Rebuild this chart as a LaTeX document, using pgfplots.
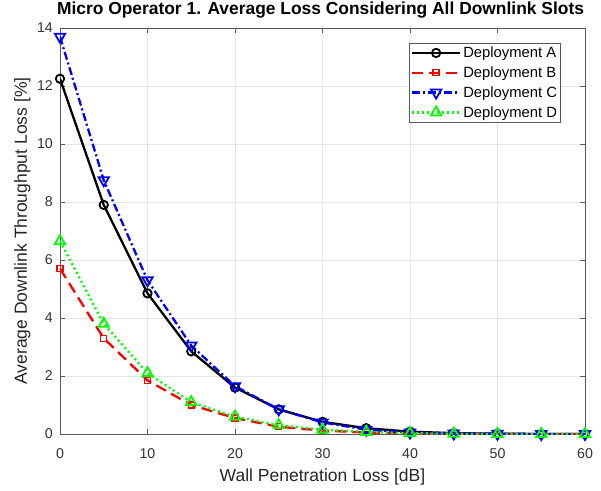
\documentclass[border=0pt]{standalone}
\usepackage{pgfplots}
\pgfplotsset{compat=1.18}
\usepackage{fontspec}
\setmainfont{Liberation Sans}
\setsansfont{Liberation Sans}
\begin{document}
\begin{tikzpicture}
	\begin{axis}[
		width=525pt, height=406pt, scale only axis,
		xmin=0, xmax=60, ymin=0, ymax=14,
		xtick={0,10,...,60}, ytick={0,2,...,14},
		grid=major,
		grid style={gray!20, line width=0.6pt},
		axis line style={gray!70!black, line width=0.6pt},
		tick style={gray!70!black},
		tick align=inside,
		major tick length=5pt,
		/pgf/number format/assume math mode=true,
		ticklabel style={font=\fontsize{14.2}{16}\selectfont, text=black!80},
		xticklabel style={anchor=base, inner sep=0pt, yshift=-24pt},
		yticklabel style={anchor=east, inner sep=0pt, xshift=-7pt},
		xlabel={Wall Penetration Loss [dB]},
		ylabel={Average Downlink Throughput Loss [\%]},
		label style={font=\fontsize{17.5}{19}\selectfont, text=black!85},
		xlabel style={at={(axis description cs:0.5,0)}, anchor=base, inner sep=0pt, yshift=-47pt},
		ylabel style={at={(axis description cs:0,0.5)}, anchor=base, inner sep=0pt, yshift=33pt},
		title={\textbf{Micro Operator 1. Average Loss Considering All Downlink Slots}},
		title style={font=\fontsize{17.4}{20}\selectfont, at={(axis description cs:0.5,1)}, anchor=base, inner sep=0pt, yshift=7pt, xshift=-2pt},
		legend cell align=left,
		legend style={at={(0.954,0.963)}, anchor=north east, font=\fontsize{14.8}{16}\selectfont,
			draw=gray!70!black, line width=0.6pt, inner sep=1.5pt, row sep=3.6pt},
		legend image code/.code={
			\draw[mark repeat=2,mark phase=2] plot coordinates {(0pt,0pt) (24pt,0pt) (48pt,0pt)};},
	]
	\addplot[black, line width=2.3pt, mark=o, mark size=4.2pt, mark options={solid, line width=1.8pt}] coordinates {
		(0,12.25) (5,7.9) (10,4.85) (15,2.85) (20,1.6) (25,0.85) (30,0.42) (35,0.2) (40,0.08) (45,0.03) (50,0.01) (55,0.0) (60,0.0)};
	\addlegendentry{Deployment A}
	\addplot[red, line width=2.3pt, dash pattern=on 11pt off 6pt, mark=square, mark size=3pt, mark options={solid, line width=1.3pt}] coordinates {
		(0,5.7) (5,3.3) (10,1.85) (15,1.0) (20,0.55) (25,0.25) (30,0.12) (35,0.05) (40,0.02) (45,0.01) (50,0.0) (55,0.0) (60,0.0)};
	\addlegendentry{Deployment B}
	\addplot[blue, line width=2.3pt, dash pattern=on 8pt off 3pt on 2pt off 3pt, mark=triangle, mark size=6pt, mark options={solid, rotate=180, line width=1.8pt}] coordinates {
		(0,13.7) (5,8.75) (10,5.3) (15,3.05) (20,1.65) (25,0.85) (30,0.4) (35,0.15) (40,0.05) (45,0.02) (50,0.01) (55,0.0) (60,0.0)};
	\addlegendentry{Deployment C}
	\addplot[green, line width=2.3pt, dash pattern=on 2pt off 3pt, mark=triangle, mark size=6pt, mark options={solid, line width=1.8pt}] coordinates {
		(0,6.65) (5,3.8) (10,2.1) (15,1.1) (20,0.6) (25,0.3) (30,0.15) (35,0.07) (40,0.03) (45,0.01) (50,0.0) (55,0.0) (60,0.0)};
	\addlegendentry{Deployment D}
	\end{axis}
	\pgfresetboundingbox
	\path ([shift={(-60pt,-56pt)}]current axis.south west) rectangle ([shift={(16pt,28pt)}]current axis.north east);
\end{tikzpicture}
\end{document}
